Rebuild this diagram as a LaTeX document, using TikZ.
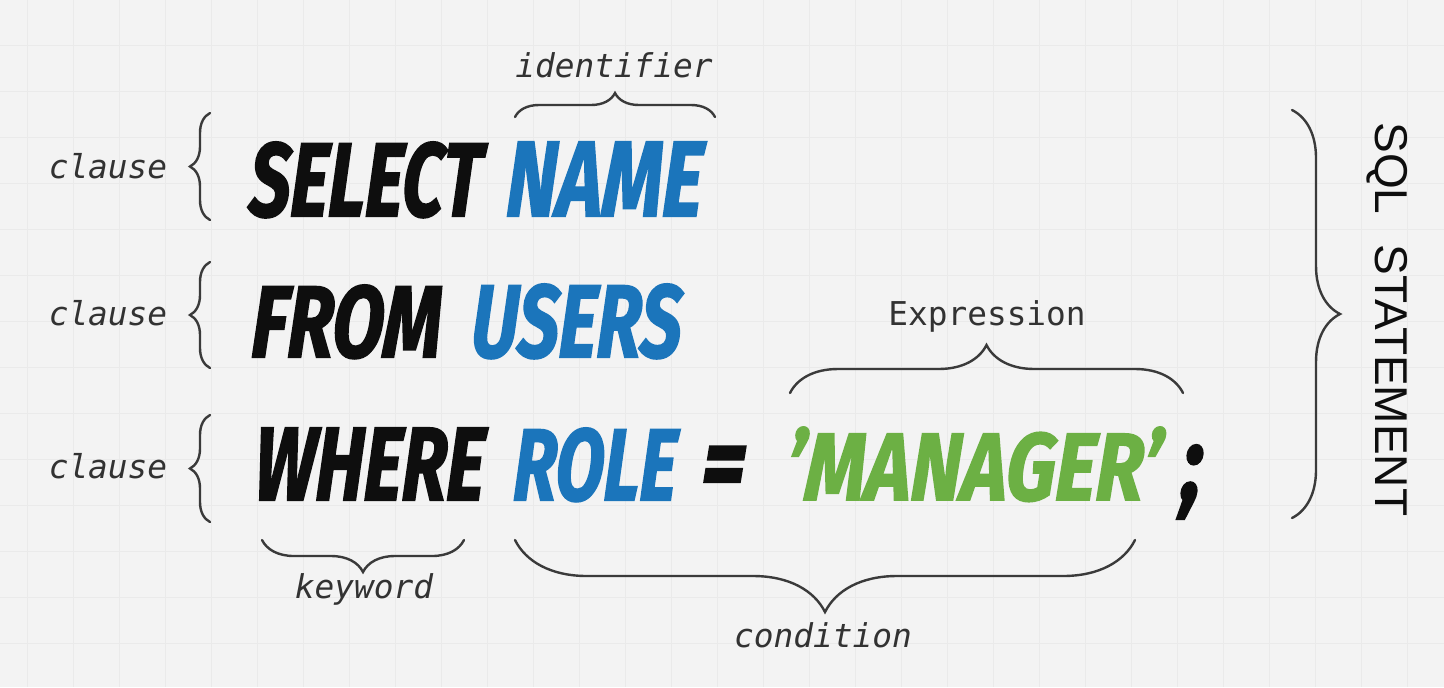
\documentclass[tikz,border=0pt]{standalone}
\usepackage{fontspec}
\usepackage{graphicx}
\usetikzlibrary{decorations.pathreplacing}
\newfontfamily\kwfont{Fira Sans}[FakeBold=2,FakeSlant=0.06]
\newfontfamily\lblfont{DejaVu Sans Mono}
\newfontfamily\sqlfont{Liberation Sans}
\definecolor{kwblue}{HTML}{1B75BB}
\definecolor{kwgreen}{HTML}{6CB044}
\definecolor{kwblack}{HTML}{0E0E0E}
\definecolor{brc}{HTML}{3A3A3A}
\definecolor{bgc}{HTML}{F3F3F3}
\definecolor{gridc}{HTML}{EAEAEA}
\newcommand\kwbox[3]{\resizebox{#1pt}{#2pt}{\kwfont\bfseries\itshape #3}}
\newcommand\kwsym[1]{\scalebox{0.8}[1]{\fontsize{54pt}{54pt}\kwfont\bfseries\itshape #1}}
\tikzset{
  kw/.style={inner sep=0pt, anchor=base west},
  lbl/.style={font=\lblfont\itshape\fontsize{16.4pt}{18pt}\selectfont, text=kwblack!85, inner sep=0pt, anchor=base},
  lblup/.style={font=\lblfont\fontsize{16.4pt}{18pt}\selectfont, text=kwblack!85, inner sep=0pt, anchor=base},
  br/.style={decorate, decoration={brace, amplitude=#1}, draw=brc, line width=1.2pt, line cap=round},
}
\begin{document}
\begin{tikzpicture}[x=0.5pt,y=-0.5pt]
\useasboundingbox (0,0) rectangle (1444,687);
\fill[bgc] (0,0) rectangle (1444,687);
\foreach \x in {27,73,...,1444} \draw[gridc, line width=0.5pt] (\x,0) -- (\x,687);
\foreach \y in {45,91,...,687} \draw[gridc, line width=0.5pt] (0,\y) -- (1444,\y);

% SQL words
\node[kw, text=kwblack] (select) at (248,216) {\kwbox{116}{37}{SELECT}};
\node[kw, text=kwblue] (name) at (505,216) {\kwbox{98}{37}{NAME}};
\node[kw, text=kwblack] (from) at (250,357) {\kwbox{95}{36}{FROM}};
\node[kw, text=kwblue] (users) at (470,357) {\kwbox{105}{36.5}{USERS}};
\node[kw, text=kwblack] (where) at (253,500) {\kwbox{115}{36}{WHERE}};
\node[kw, text=kwblue] (role) at (512,500) {\kwbox{81.5}{36}{ROLE}};
\node[kw, text=kwblack] (eq) at (700,500) {\kwsym{=}};
\node[kw, text=kwgreen] (manager) at (785,500) {\kwbox{187.5}{36.5}{’MANAGER’}};
\node[kw, text=kwblack] (semi) at (1180,500) {\kwsym{;}};

% labels
\node[lbl] (cl1) at (108,178) {clause};
\node[lbl] (cl2) at (108,325) {clause};
\node[lbl] (cl3) at (108,478) {clause};
\node[lbl] (ident) at (614,77) {identifier};
\node[lbl] (keyw) at (364,598) {keyword};
\node[lbl] (cond) at (823,647) {condition};
\node[lblup] (expr) at (987,325) {Expression};
\node[rotate=-90, anchor=base west, inner sep=0pt, font=\sqlfont\fontsize{23pt}{23pt}\selectfont, text=kwblack] (sql) at (1375,122) {SQL\hspace{15pt}STATEMENT};

% brace end points
\coordinate (b1a) at (210,220); \coordinate (b1b) at (210,113);
\coordinate (b2a) at (210,368); \coordinate (b2b) at (210,262);
\coordinate (b3a) at (210,522); \coordinate (b3b) at (210,415);
\coordinate (ia) at (515,117); \coordinate (ib) at (715,117);
\coordinate (ea) at (790,393); \coordinate (eb) at (1183,393);
\coordinate (ka) at (464,540); \coordinate (kb) at (262,540);
\coordinate (ca) at (1135,540); \coordinate (cb) at (515,540);
\coordinate (sa) at (1292,110); \coordinate (sb) at (1292,518);

\draw[br=10pt] (b1a) -- (b1b);
\draw[br=10pt] (b2a) -- (b2b);
\draw[br=10pt] (b3a) -- (b3b);
\draw[br=12pt] (ia) -- (ib);
\draw[br=24pt] (ea) -- (eb);
\draw[br=16pt] (ka) -- (kb);
\draw[br=36pt] (ca) -- (cb);
\draw[br=24pt] (sa) -- (sb);
\end{tikzpicture}
\end{document}
